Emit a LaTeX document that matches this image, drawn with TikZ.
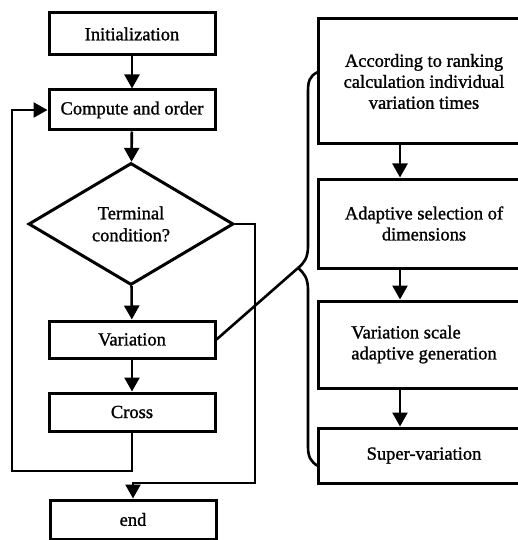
\documentclass[tikz,border=0pt]{standalone}
\usepackage{fontspec}
\setmainfont{Liberation Serif}
\newfontfamily\boxfont{Liberation Serif}[FakeBold=1.2]
\usetikzlibrary{shapes,arrows.meta}

\begin{document}
\begin{tikzpicture}[x=1pt, y=-1pt,
  box/.style={draw, line width=3pt, minimum width=166pt, inner sep=0pt,
    font=\boxfont\fontsize{18.5}{21}\selectfont, align=center},
  stage/.style={box, minimum width=212pt},
  decision/.style={draw, diamond, line width=3pt, minimum width=205pt,
    minimum height=122pt, inner sep=0pt, font=\boxfont\fontsize{18.5}{22}\selectfont, align=center},
  line/.style={line width=2.6pt},
  arr/.style={line, -{Triangle[length=14pt,width=15pt]}}]
\useasboundingbox (0,0) rectangle (518,540);

% main loop
\node[box, minimum height=42pt] (init) at (132,34) {Initialization};
\node[box, minimum height=40pt] (comp) at (132,110) {Compute and order};
\node[decision] (term) at (131,224) {Terminal\\condition?};
\node[box, minimum height=37pt] (var) at (132,339.5) {Variation};
\node[box, minimum height=38pt] (cross) at (132,412) {Cross};
\node[box, minimum height=39pt] (end) at (133,519.5) {end};

% variation steps
\node[stage, minimum height=125pt] (rank) at (424,81.5) {According to ranking\\calculation individual\\variation times};
\node[stage, minimum height=89pt] (dims) at (424,223.5) {Adaptive selection of\\dimensions};
\node[stage, minimum height=87pt, align=left] (scale) at (424,344.5) {Variation scale\\adaptive generation};
\node[stage, minimum height=55pt] (super) at (424,455.5) {Super-variation};

\coordinate (loopl) at (12,471);
\coordinate (exitr) at (255,483);
\coordinate (tip) at (298,268);

\draw[arr] (init) -- (comp);
\draw[arr] (comp) -- (term);
\draw[arr] (term) -- (var);
\draw[arr] (var) -- (cross);
\draw[arr] (cross.south) |- (loopl) |- (comp.west);
\draw[arr] (term.east) -| (exitr) -| (end.north);

\draw[arr] ([xshift=-24pt]rank.south) -- ([xshift=-24pt]dims.north);
\draw[arr] ([xshift=-24pt]dims.south) -- ([xshift=-24pt]scale.north);
\draw[arr] ([xshift=-24pt]scale.south) -- ([xshift=-24pt]super.north);

% brace
\draw[line] (318,72) .. controls (309,76) and (308,82) .. (308,92) -- (308,246)
  .. controls (308,258) and (304,263) .. (tip);
\draw[line] (tip) .. controls (304,273) and (308,278) .. (308,290) -- (308,447)
  .. controls (308,457) and (311,462) .. (318,466);
\draw[line] (var.east) -- (tip);
\end{tikzpicture}
\end{document}
